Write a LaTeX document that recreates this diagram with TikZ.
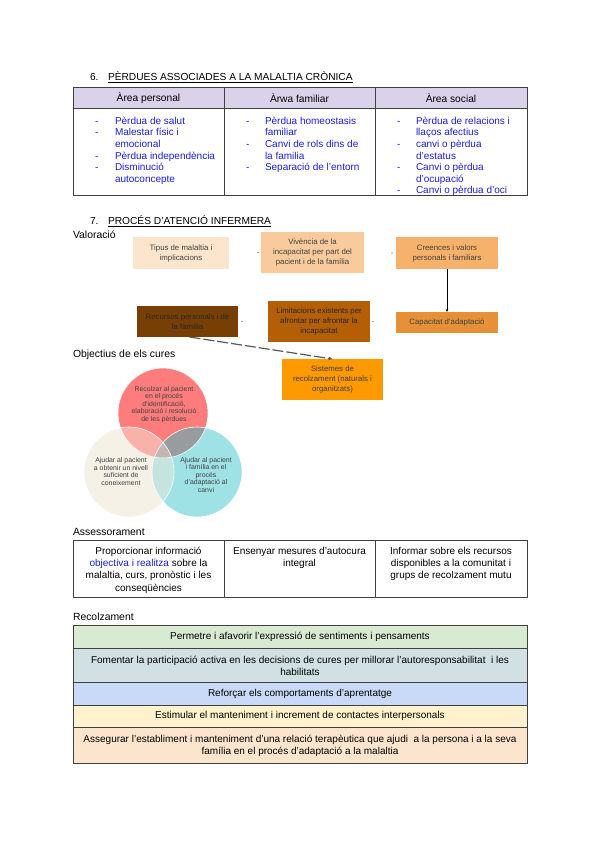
\documentclass[tikz,border=0pt]{standalone}
\usepackage{fontspec}
\setmainfont{Liberation Sans}
\usetikzlibrary{arrows.meta}
\definecolor{hdr}{HTML}{D9D2E9}
\definecolor{bluetx}{HTML}{1C1CE0}
\definecolor{bord}{HTML}{404040}
\definecolor{fa}{HTML}{FCE5CD}
\definecolor{fb}{HTML}{F9CB9C}
\definecolor{fc}{HTML}{F6B26B}
\definecolor{fd}{HTML}{E69138}
\definecolor{fe}{HTML}{B45F06}
\definecolor{ff}{HTML}{783F04}
\definecolor{fg}{HTML}{FF9900}
\definecolor{vred}{HTML}{FF7C7C}
\definecolor{vbei}{HTML}{F6F1E7}
\definecolor{vcya}{HTML}{9FE2E6}
\definecolor{vrb}{HTML}{F9B2AA}
\definecolor{vrc}{HTML}{999C9E}
\definecolor{vbc}{HTML}{C6E4DF}
\definecolor{vall}{HTML}{C2B8B1}
\definecolor{rga}{HTML}{D9EAD3}
\definecolor{rgb}{HTML}{D0E0E3}
\definecolor{rgc}{HTML}{C9DAF8}
\definecolor{rgd}{HTML}{FFF2CC}
\definecolor{rge}{HTML}{FCE5CD}
\begin{document}
\begin{tikzpicture}[x=1pt,y=-1pt,
  every node/.style={inner sep=0pt,outer sep=0pt},
  tbl/.style={draw=bord,line width=0.9pt},
  title/.style={anchor=base west,font=\fontsize{10.2}{12}\selectfont},
  label/.style={anchor=base west,font=\fontsize{10.4}{12}\selectfont},
  hd/.style={font=\fontsize{10.2}{12}\selectfont},
  bl/.style={anchor=base west,text=bluetx,font=\fontsize{10}{12}\selectfont},
  flow/.style={align=center,font=\fontsize{7.8}{10}\selectfont,text=black!75},
  ventx/.style={align=center,font=\fontsize{6.9}{7.5}\selectfont,text=black!75},
  cell/.style={align=center,font=\fontsize{10}{12.2}\selectfont,anchor=north},
  row/.style={align=center,font=\fontsize{10}{12}\selectfont},
  tip/.style={fill=black!70}
]
\useasboundingbox[fill=white] (0,0) rectangle (600,848);

% ---- Section 6
\node[title] (n6) at (90,81) {6.};
\node[title] (t6) at (108,81) {\underline{PÈRDUES ASSOCIADES A LA MALALTIA CRÒNICA}};

\fill[hdr] (73,87) rectangle (527,108);
\draw[tbl] (73,87) rectangle (527,195);
\draw[tbl] (73,108) -- (527,108);
\draw[tbl] (224,87) -- (224,195);
\draw[tbl] (375,87) -- (375,195);
\node[hd] (h1) at (148.5,98) {Àrea personal};
\node[hd] (h2) at (299.5,98) {Àrwa familiar};
\node[hd] (h3) at (451,98) {Àrea social};

\foreach \t [count=\i] in {{Pèrdua de salut},{Malestar físic i},{emocional},{Pèrdua independència},{Disminució},{autoconcepte}}
  \node[bl] (ca\i) at (115,112.8+11.55*\i) {\t};
\foreach \i in {1,2,4,5}
  \node[bl] (da\i) at (95,112.8+11.55*\i) {-};
\foreach \t [count=\i] in {{Pèrdua homeostasis},{familiar},{Canvi de rols dins de},{la familia},{Separació de l'entorn}}
  \node[bl] (cb\i) at (265,112.8+11.55*\i) {\t};
\foreach \i in {1,3,5}
  \node[bl] (db\i) at (246,112.8+11.55*\i) {-};
\foreach \t [count=\i] in {{Pèrdua de relacions i},{llaços afectius},{canvi o pèrdua},{d'estatus},{Canvi o pèrdua},{d'ocupació},{Canvi o pèrdua d'oci}}
  \node[bl] (cc\i) at (416,112.8+11.55*\i) {\t};
\foreach \i in {1,3,5,7}
  \node[bl] (dc\i) at (397,112.8+11.55*\i) {-};

% ---- Section 7
\node[title] (n7) at (90,224.5) {7.};
\node[title] (t7) at (108,224.5) {\underline{PROCÉS D'ATENCIÓ INFERMERA}};
\node[label] (lv) at (73,238.5) {Valoració};

\node[flow,fill=fa,minimum width=96pt,minimum height=32pt] (b1) at (181,253) {Tipus de malaltia i\\implicacions};
\node[flow,fill=fb,minimum width=103pt,minimum height=41pt] (b2) at (312.5,252.5) {Vivència de la\\incapacitat per part del\\pacient i de la família};
\node[flow,fill=fc,minimum width=102pt,minimum height=32pt] (b3) at (447,253) {Creences i valors\\personals i familiars};
\node[flow,fill=fd,minimum width=102pt,minimum height=21pt] (b4) at (447,322.5) {Capacitat d'adaptació};
\node[flow,fill=fe,minimum width=102pt,minimum height=41pt,text=black!85] (b5) at (319,321.5) {Limitacions existents per\\afrontar per afrontar la\\incapacitat};
\node[flow,fill=ff,minimum width=101pt,minimum height=31pt,text=black!85] (b6) at (187.5,321.5) {Recursos personals i de\\la família};
\node[flow,fill=fg,minimum width=101pt,minimum height=41pt] (b7) at (332.5,379.5) {Sistemes de\\recolzament (naturals i\\organitzats)};

\fill[tip] ([xshift=-3pt]b2.west) circle (0.7pt);
\fill[tip] ([xshift=-4pt]b3.west) circle (0.7pt);
\fill[tip] ([xshift=3pt]b5.east) circle (0.7pt);
\fill[tip] ([xshift=4pt]b6.east) circle (0.7pt);

\draw[black,line width=0.7pt,-{Stealth[length=3pt,width=2.6pt]}] (b3.south) -- (b4.north);
\draw[black!65,line width=1.2pt,dash pattern=on 11pt off 3pt,-{Stealth[length=4pt,width=3.5pt]}] ([xshift=2pt]b6.south) -- (b7.north);

% ---- Objectius
\node[label] (lo) at (73,357.5) {Objectius de els cures};
\coordinate (cr) at (163,413);
\coordinate (cl) at (129,472);
\coordinate (cq) at (197,472);
\fill[vbei] (cl) circle (45pt);
\fill[vcya] (cq) circle (45pt);
\fill[vred] (cr) circle (45pt);
\begin{scope}
  \clip (cr) circle (45pt);
  \fill[vrb] (cl) circle (45pt);
  \fill[vrc] (cq) circle (45pt);
\end{scope}
\begin{scope}
  \clip (cl) circle (45pt);
  \fill[vbc] (cq) circle (45pt);
  \clip (cq) circle (45pt);
  \fill[vall] (cr) circle (45pt);
\end{scope}
\draw[white,line width=0.6pt] (cl) circle (45pt) (cq) circle (45pt) (cr) circle (45pt);
\node[ventx] (vt1) at (164,404.5) {Recolzar al pacient\\en el procés\\d'identificació,\\elaboració i resolució\\de les pèrdues};
\node[ventx] (vt2) at (121,471.5) {Ajudar al pacient\\a obtenir un nivell\\suficient de\\coneixement};
\node[ventx] (vt3) at (206,475) {Ajudar al pacient\\i família en el\\procés\\d'adaptació al\\canvi};

% ---- Assessorament
\node[label] (la) at (73,535.5) {Assessorament};
\draw[tbl] (73,540) rectangle (527,597);
\draw[tbl] (224,540) -- (224,597);
\draw[tbl] (375,540) -- (375,597);
\node[cell] (a1) at (148.5,546) {\strut Proporcionar informació\\\textcolor{bluetx}{objectiva i realitza} sobre la\\malaltia, curs, pronòstic i les\\conseqüències};
\node[cell] (a2) at (299.5,546) {\strut Ensenyar mesures d'autocura\\integral};
\node[cell] (a3) at (451,546) {\strut Informar sobre els recursos\\disponibles a la comunitat i\\grups de recolzament mutu};

% ---- Recolzament
\node[label] (lr) at (73,620.5) {Recolzament};
\fill[rga] (73,625) rectangle (527,648);
\fill[rgb] (73,648) rectangle (527,682);
\fill[rgc] (73,682) rectangle (527,705);
\fill[rgd] (73,705) rectangle (527,727);
\fill[rge] (73,727) rectangle (527,763);
\draw[tbl] (73,625) rectangle (527,763);
\draw[tbl] (73,648) -- (527,648);
\draw[tbl] (73,682) -- (527,682);
\draw[tbl] (73,705) -- (527,705);
\draw[tbl] (73,727) -- (527,727);
\node[row] (r1) at (300,636.5) {Permetre i afavorir l'expressió de sentiments i pensaments};
\node[row] (r2) at (300,665.5) {Fomentar la participació activa en les decisions de cures per millorar l'autoresponsabilitat\ \ i les\\habilitats};
\node[row] (r3) at (300,693.5) {Reforçar els comportaments d'aprentatge};
\node[row] (r4) at (300,716) {Estimular el manteniment i increment de contactes interpersonals};
\node[row] (r5) at (300,745.5) {Assegurar l'establiment i manteniment d'una relació terapèutica que ajudi\ \ a la persona i a la seva\\família en el procés d'adaptació a la malaltia};
\end{tikzpicture}
\end{document}
